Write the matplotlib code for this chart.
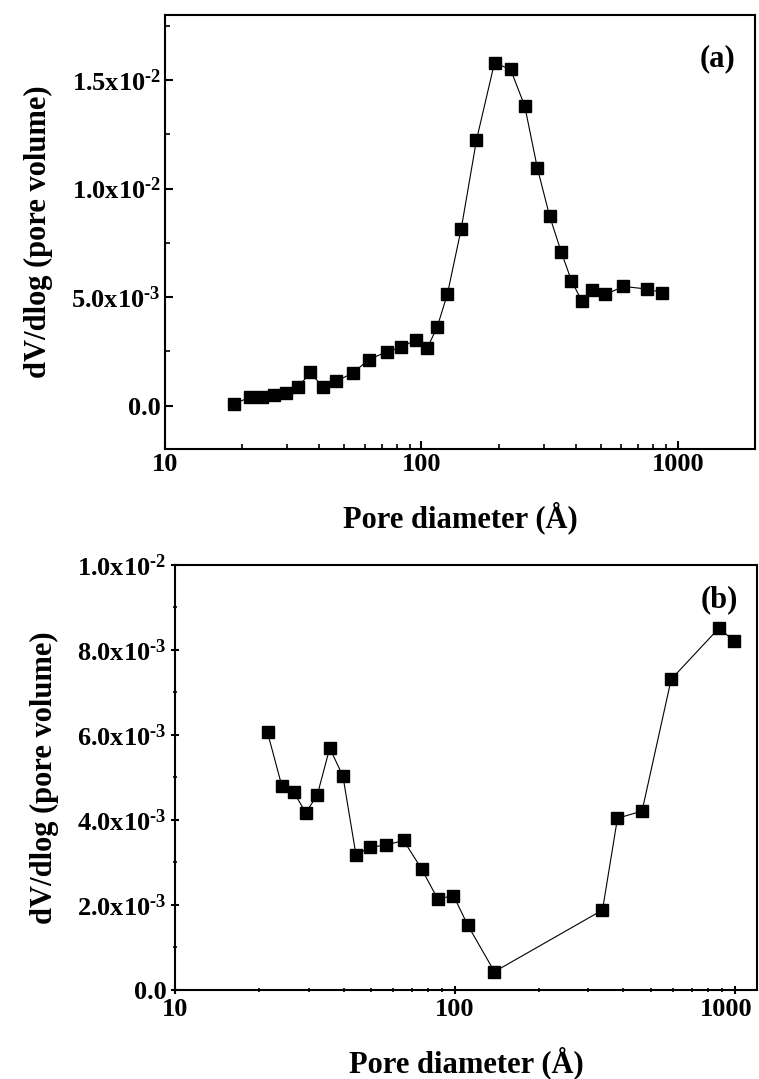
import numpy as np
import matplotlib
matplotlib.use("Agg")
import matplotlib.pyplot as plt
import matplotlib.transforms as mtransforms
from matplotlib.ticker import FixedLocator, NullFormatter

plt.rcParams['font.family'] = ['Liberation Serif', 'DejaVu Serif']
plt.rcParams['font.weight'] = 'bold'
plt.rcParams['mathtext.fontset'] = 'custom'
plt.rcParams['mathtext.rm'] = 'Liberation Serif:bold'
plt.rcParams['mathtext.bf'] = 'Liberation Serif:bold'
plt.rcParams['mathtext.it'] = 'Liberation Serif:bold'

# panel (a)
diam_a = [18.6, 21.4, 23.9, 26.6, 29.6, 33.0, 36.9, 41.3, 46.6, 53.9, 62.5,
          73.2, 83.3, 95.0, 105.2, 115.1, 126.3, 142.9, 164.0, 192.8, 222.7,
          253.0, 283.4, 316.2, 350.6, 384.9, 422.0, 464.4, 522.4, 613.8, 760.0,
          871.6]
dv_a = [0.08e-3, 0.38e-3, 0.41e-3, 0.51e-3, 0.57e-3, 0.84e-3, 1.53e-3, 0.84e-3,
        1.12e-3, 1.50e-3, 2.12e-3, 2.48e-3, 2.68e-3, 3.04e-3, 2.64e-3, 3.60e-3,
        5.14e-3, 8.13e-3, 12.24e-3, 15.80e-3, 15.49e-3, 13.80e-3, 10.94e-3,
        8.74e-3, 7.10e-3, 5.75e-3, 4.83e-3, 5.34e-3, 5.12e-3, 5.49e-3, 5.37e-3,
        5.20e-3]
yticks_a = [0.0, 5e-3, 1e-2, 1.5e-2]
ylabels_a = ['0.0', r'5.0x10$^{\text{-3}}$', r'1.0x10$^{\text{-2}}$',
             r'1.5x10$^{\text{-2}}$']

# panel (b)
diam_b = [21.4, 24.1, 26.6, 29.3, 32.2, 35.7, 39.8, 44.3, 49.7, 56.9, 65.5,
          76.0, 86.8, 98.8, 111.0, 138.4, 336.5, 380.8, 466.0, 592.3, 879.0,
          990.0]
dv_b = [6.06e-3, 4.79e-3, 4.65e-3, 4.17e-3, 4.58e-3, 5.69e-3, 5.03e-3, 3.18e-3,
        3.36e-3, 3.41e-3, 3.52e-3, 2.85e-3, 2.14e-3, 2.22e-3, 1.53e-3, 0.43e-3,
        1.88e-3, 4.04e-3, 4.21e-3, 7.31e-3, 8.52e-3, 8.21e-3]
yticks_b = [0.0, 2e-3, 4e-3, 6e-3, 8e-3, 1e-2]
ylabels_b = ['0.0', r'2.0x10$^{\text{-3}}$', r'4.0x10$^{\text{-3}}$',
             r'6.0x10$^{\text{-3}}$', r'8.0x10$^{\text{-3}}$',
             r'1.0x10$^{\text{-2}}$']

xticks = [10, 100, 1000]
xlabels = ['10', '100', '1000']
minor_x = [m * 10 ** e for e in (1, 2) for m in range(2, 10)]

fig = plt.figure(figsize=(7.59, 10.79), dpi=100)
ax1 = fig.add_axes([0.2174, 0.5839, 0.7773, 0.4022])
ax2 = fig.add_axes([0.2306, 0.0825, 0.7668, 0.3939])


def style(ax, direction, ymin, ymax, yticks, ylabels, yminor, xmax, tag, tagpos):
    ax.set_xscale('log')
    ax.set_xlim(10, xmax)
    ax.set_ylim(ymin, ymax)
    ax.xaxis.set_major_locator(FixedLocator(xticks))
    ax.set_xticklabels(xlabels)
    ax.xaxis.set_minor_locator(FixedLocator(minor_x))
    ax.xaxis.set_minor_formatter(NullFormatter())
    ax.set_yticks(yticks)
    ax.set_yticklabels(ylabels)
    ax.yaxis.set_minor_locator(FixedLocator(yminor))
    for s in ax.spines.values():
        s.set_linewidth(1.5)
    ax.tick_params(which='major', direction=direction, length=6, width=1.5,
                   labelsize=19, top=False, right=False, pad=3)
    ax.tick_params(which='minor', direction=direction, length=3.5, width=1.2,
                   top=False, right=False)
    ax.set_xlabel('Pore diameter (Å)', fontsize=22, fontweight='bold', labelpad=18)
    ax.set_ylabel('dV/dlog (pore volume)', fontsize=22, fontweight='bold', labelpad=13)
    ax.text(tagpos[0], tagpos[1], tag, transform=ax.transAxes, fontsize=22,
            fontweight='bold', ha='center', va='center')


ax1.plot(diam_a, dv_a, color='black', linewidth=0.8, marker='s', markersize=8)
style(ax1, 'in', -0.002, 0.018, yticks_a, ylabels_a,
      [2.5e-3, 7.5e-3, 12.5e-3, 17.5e-3], 2000, '(a)', (0.936, 0.90))

ax2.plot(diam_b, dv_b, color='black', linewidth=0.8, marker='s', markersize=8)
style(ax2, 'inout', 0.0, 0.01, yticks_b, ylabels_b,
      [1e-3, 3e-3, 5e-3, 7e-3, 9e-3], 1200, '(b)', (0.936, 0.918))

# the last x label of panel (b) sits at the figure edge; nudge it inside
last = ax2.get_xticklabels()[-1]
last.set_transform(last.get_transform() +
                   mtransforms.ScaledTranslation(-6 / 72, 0, fig.dpi_scale_trans))

fig.savefig('out.png', dpi=100)
